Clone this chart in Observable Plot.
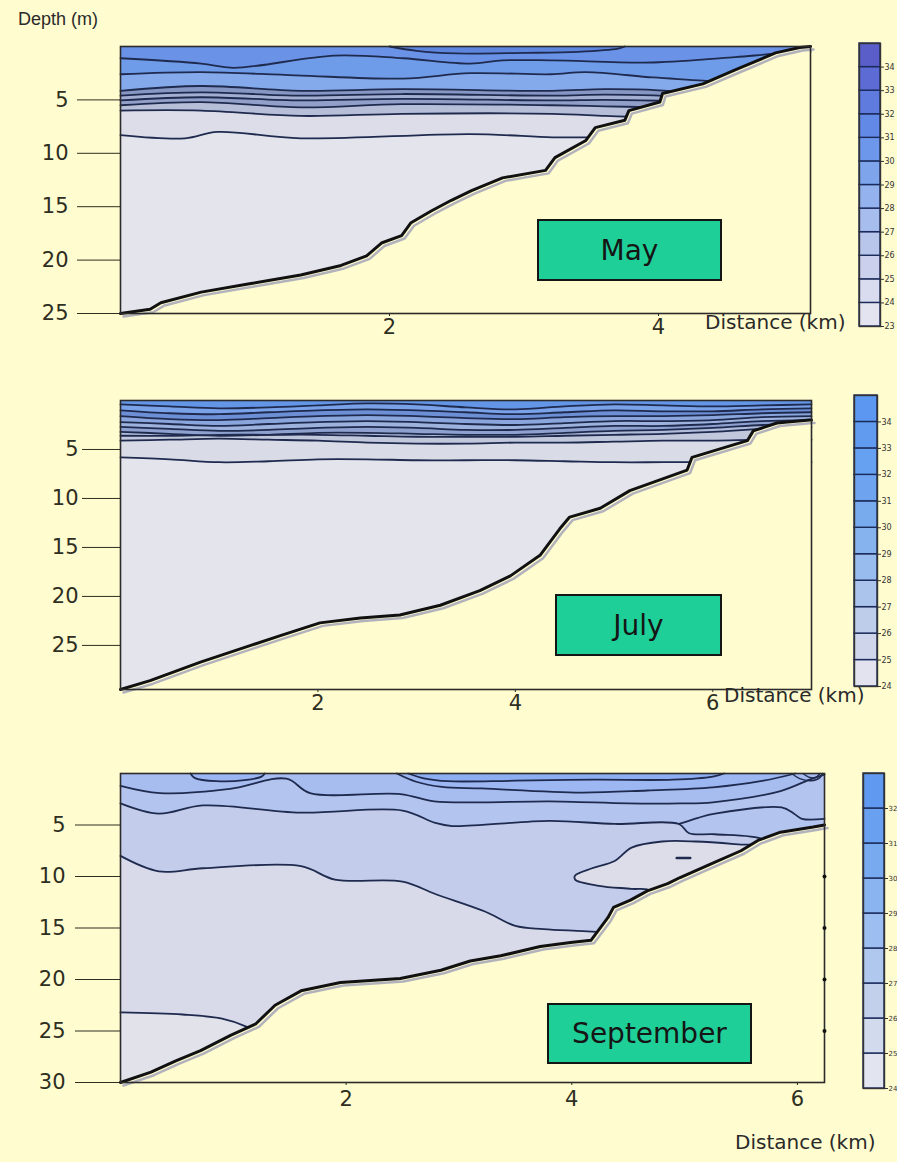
<!DOCTYPE html>
<html><head><meta charset="utf-8">
<script src="https://cdn.jsdelivr.net/npm/d3@7"></script>
<script src="https://cdn.jsdelivr.net/npm/@observablehq/plot@0.6"></script>
<style>
body{margin:0;background:#fffccf;}
#fig{position:relative;width:897px;height:1162px;overflow:hidden;background:#fffccf;}
.lab{position:absolute;font-family:'Comic Sans MS','DejaVu Sans',sans-serif;color:#2a2a2a;white-space:nowrap;}
.month{position:absolute;background:#1fcf98;border:2.5px solid #151515;box-sizing:border-box;display:flex;align-items:center;justify-content:center;font-size:28px;color:#151515;font-family:'Comic Sans MS','DejaVu Sans',sans-serif;}
</style></head>
<body><div id="fig"></div>
<script>
// ---------------- DATA ----------------
const months = ["May", "July", "September"];
const xTicks = {May: [2, 4], July: [2, 4, 6], September: [2, 4, 6]};
const yTicks = {May: [5, 10, 15, 20, 25], July: [5, 10, 15, 20, 25], September: [5, 10, 15, 20, 25, 30]};
const sepEdgeTicks = [10, 15, 20, 25];

// May: bottom profile [km, depth m]
const mayBottom = [[0,25.0],[0.22,24.6],[0.3,24.0],[0.6,23.0],[0.97,22.2],[1.34,21.4],[1.64,20.5],[1.83,19.6],[1.94,18.4],[2.09,17.7],[2.16,16.5],[2.31,15.4],[2.46,14.4],[2.61,13.5],[2.84,12.3],[3.16,11.6],[3.23,10.4],[3.46,8.8],[3.53,7.6],[3.75,6.9],[3.78,6.0],[4.01,5.2],[4.03,4.4],[4.33,3.5],[4.57,2.2],[4.87,0.6],[5.05,0.1],[5.13,0]];
// May isohalines [km, depth]
const mayIsoA = [[0,1.1],[0.6,1.6],[0.84,2.0],[1.59,0.85],[2.1,1.1],[2.6,1.6],[2.84,1.3],[3.21,1.3],[3.96,1.5],[4.57,1.0],[4.85,0.7],[5.13,0.5]];
const mayIsoB = [[0,2.6],[0.6,2.4],[1.3,2.7],[2.1,3.0],[2.6,2.5],[3.2,2.6],[3.46,2.4],[3.96,2.9],[4.33,3.2],[4.6,3.5]];
const mayIsoD = [[0,4.15],[0.6,3.7],[1.34,4.15],[2.09,4.0],[3.21,4.15],[3.6,4.0],[4.0,4.1],[4.2,4.3]];
const mayIsoE = [[0,4.6],[0.6,4.3],[1.34,4.6],[2.09,4.45],[3.21,4.6],[3.6,4.5],[4.0,4.6],[4.15,4.8]];
const mayIsoF = [[0,5.05],[0.6,4.75],[1.34,5.05],[2.09,4.9],[3.21,5.05],[3.6,5.0],[4.1,5.1]];
const mayIsoG = [[0,5.5],[0.6,5.2],[1.34,5.7],[2.09,5.4],[3.21,5.5],[3.6,5.6],[4.0,5.7]];
const mayIsoH = [[0,6.0],[0.6,6.0],[1.34,6.5],[2.09,6.3],[3.21,6.3],[3.6,6.5],[3.85,6.6]];
const mayIsoI = [[0,8.3],[0.48,8.6],[0.72,8.0],[1.34,8.6],[2.6,8.2],[3.21,8.5],[3.5,8.5]];
const mayLens = [[2.0,0],[2.2,0.4],[2.5,0.65],[3.0,0.6],[3.4,0.5],[3.7,0.2],[3.75,0]];

// July: bottom profile
const julBottom = [[0,29.5],[0.30,28.6],[0.81,26.7],[1.32,25.0],[1.62,24.0],[2.02,22.7],[2.43,22.2],[2.83,21.9],[3.24,20.9],[3.64,19.4],[3.95,17.9],[4.25,15.8],[4.45,13.1],[4.55,11.9],[4.86,11.0],[5.16,9.2],[5.74,7.1],[5.79,5.8],[6.35,4.1],[6.41,3.1],[6.65,2.3],[6.98,2.0],[7.0,2.0]];
// July isohalines: depth at each distance of julDist
const julDist = [0, 0.5, 1, 1.5, 2, 2.5, 3, 3.5, 4, 4.5, 5, 5.5, 6, 6.5, 7];
const julIso1 = [0.4, 0.6, 0.8, 0.7, 0.5, 0.3, 0.4, 0.7, 0.9, 0.6, 0.4, 0.5, 0.6, 0.5, 0.4];
const julIso2 = [1.0, 1.3, 1.4, 1.2, 1.0, 0.9, 1.0, 1.2, 1.4, 1.2, 1.0, 1.1, 1.1, 0.9, 0.8];
const julIso3 = [1.6, 1.9, 2.0, 1.8, 1.6, 1.5, 1.6, 1.8, 1.9, 1.7, 1.6, 1.6, 1.5, 1.3, 1.2];
const julIso4 = [2.2, 2.4, 2.6, 2.4, 2.2, 2.1, 2.2, 2.4, 2.5, 2.3, 2.1, 2.1, 2.0, 1.7, 1.6];
const julIso5 = [2.7, 2.9, 3.1, 3.0, 2.8, 2.7, 2.8, 3.0, 3.0, 2.8, 2.6, 2.6, 2.4, 2.1, 2.0];
const julIso6 = [3.2, 3.4, 3.6, 3.5, 3.3, 3.3, 3.4, 3.5, 3.5, 3.3, 3.1, 3.0, 2.8, 2.5, 2.3];
const julIso7 = [3.6, 3.6, 3.5, 3.5, 3.5, 3.6, 3.7, 3.7, 3.7, 3.6, 3.5, 3.4, 3.2, 2.9, 2.7];
const julIso8 = [4.1, 4.0, 3.9, 4.0, 4.1, 4.3, 4.4, 4.4, 4.3, 4.3, 4.2, 4.1, 4.1, 4.0, 4.0];
const julIso9 = [5.8, 6.0, 6.3, 6.2, 6.0, 6.0, 6.1, 6.1, 6.1, 6.2, 6.3, 6.3, 6.3, 6.3, 6.3];

// September: bottom profile
const sepBottom = [[0,30.0],[0.27,29.0],[0.49,27.9],[0.71,26.9],[0.98,25.4],[1.2,24.3],[1.37,22.5],[1.6,21.1],[1.95,20.3],[2.48,19.9],[2.84,19.1],[3.1,18.2],[3.37,17.7],[3.72,16.8],[3.99,16.4],[4.17,16.2],[4.32,14.0],[4.37,13.0],[4.52,12.3],[4.67,11.4],[4.85,10.7],[4.96,10.1],[5.25,8.7],[5.5,7.5],[5.65,6.5],[5.85,5.7],[6.14,5.2],[6.24,5.0]];
const sepIso2 = [[0,1.2],[0.35,1.9],[0.97,1.5],[1.47,0.5],[1.68,1.9],[2.48,2.0],[2.78,2.7],[3.2,2.8],[3.8,2.7],[4.5,2.9],[4.96,2.9],[5.25,2.8],[5.85,1.7],[6.13,0.5],[6.24,0.1]];
const sepIso3 = [[0,2.9],[0.34,3.9],[0.73,3.1],[1.6,3.8],[2.5,3.6],[2.79,4.8],[2.94,5.1],[3.8,4.6],[4.38,4.9],[4.95,4.9],[5.04,5.8],[5.27,5.9],[5.7,6.4],[5.8,7.5]];
const sepIso3b = [[4.95,4.9],[5.12,4.3],[5.27,3.9],[5.86,3.3],[5.97,3.9],[6.04,4.4],[6.24,4.4]];
const sepIso4 = [[0,8.0],[0.34,9.5],[0.73,9.2],[1.6,9.0],[1.9,10.3],[2.5,10.5],[2.79,11.7],[3.23,13.4],[3.5,14.8],[3.75,15.1],[4.1,15.3],[4.4,15.5]];
const sepIso5 = [[0,23.2],[0.55,23.4],[0.9,23.8],[1.12,24.6],[1.25,25.5]];
const sepLens1 = [[0.62,0],[0.66,0.45],[0.85,0.75],[1.1,0.65],[1.25,0.3],[1.28,0]];
const sepLensA = [[2.55,0],[2.7,0.5],[2.9,0.75],[3.5,0.7],[4.2,0.6],[4.9,0.6],[5.25,0.3],[5.35,0]];
const sepLensB = [[2.45,0],[2.62,0.8],[2.85,1.3],[3.2,1.45],[4.08,1.85],[4.67,1.65],[5.25,1.35],[5.7,0.7],[5.98,0]];
const sepLensR = [[4.03,9.9],[4.18,9.2],[4.38,8.5],[4.53,7.2],[4.8,6.6],[5.1,6.6],[5.5,6.9],[5.9,7.3],[5.9,14],[4.8,14],[4.7,11.4],[4.53,11.2],[4.24,10.9],[4.03,10.3]];
const sepDash = [[4.93,8.2],[5.05,8.2]];
const sepArc1 = [[5.95,0],[6.02,0.5],[6.12,0.7],[6.2,0.4],[6.22,0]];
const sepArc2 = [[6.05,0],[6.1,0.35],[6.16,0.4],[6.2,0]];

// colour bars: lower edge of each class
const mayBarLevels = [23, 24, 25, 26, 27, 28, 29, 30, 31, 32, 33, 34];
const julBarLevels = [24, 25, 26, 27, 28, 29, 30, 31, 32, 33, 34];
const sepBarLevels = [24, 25, 26, 27, 28, 29, 30, 31, 32];

// ---------------- STYLE ----------------
const BG = "#fffccf";
const FONT = "'Comic Sans MS','DejaVu Sans',sans-serif";
const LINE = "#1f2a4f";
const mayBarColors = ["#e4e4f0","#d9dcee","#cbd1ec","#b9c6ec","#a6bdee","#93b2ee","#7ea5ec","#6d97ea","#6389e6","#5f7bde","#5d6cd4","#5a5ec8"];
const julBarColors = ["#e2e3ee","#cfd6ec","#bdcdea","#aac4ec","#98bcee","#86b2ee","#78aaee","#6ea4ef","#66a0f0","#609bf0","#5c98f2"];
const sepBarColors = ["#e2e4ef","#d2daee","#c2d0ec","#b0c8ee","#9dbef0","#8ab4f0","#78aaf0","#6aa0f0","#5f9af0"];

const fig = document.getElementById("fig");
const pairs = (dist, depths) => depths.map((v, i) => [dist[i], v]);
const X = d => d[0], Y = d => d[1];

function panel(o) {
  const marks = [Plot.frame({fill: o.base, stroke: "none"})];
  for (const [data, color] of o.bands)
    marks.push(Plot.area(data, {x1: X, y1: Y, y2: () => o.ymax, fill: color, curve: "catmull-rom"}));
  for (const [data, color, curve] of o.fills)
    marks.push(Plot.line(data, {x: X, y: Y, fill: color, stroke: LINE, strokeWidth: 1.8, curve}));
  for (const [data] of o.bands)
    marks.push(Plot.line(data, {x: X, y: Y, stroke: LINE, strokeWidth: 1.8, curve: "catmull-rom"}));
  for (const [data, w] of (o.lines || []))
    marks.push(Plot.line(data, {x: X, y: Y, stroke: LINE, strokeWidth: w, curve: "catmull-rom"}));
  marks.push(Plot.area(o.bottom, {x1: X, y1: Y, y2: () => o.ymax, fill: BG}));
  marks.push(Plot.line(o.bottom, {x: X, y: Y, stroke: "#b2b2bc", strokeWidth: 2.5, dx: 3, dy: 3}));
  marks.push(Plot.line(o.bottom, {x: X, y: Y, stroke: "#111", strokeWidth: 3}));
  marks.push(Plot.frame({stroke: "#2b2b2b", strokeWidth: 1.6}));
  if (o.edgeTicks) marks.push(Plot.dot(o.edgeTicks, {x: () => o.xmax, y: d => d, r: 2, fill: "#111"}));
  const svg = Plot.plot({
    width: 897, height: o.height,
    marginLeft: 120, marginRight: o.mr, marginTop: o.mt, marginBottom: o.mb,
    x: {domain: [0, o.xmax], ticks: o.xticks, tickSize: 3, tickPadding: o.xpad, tickFormat: d => String(d), label: null},
    y: {domain: [0, o.ymax], reverse: true, ticks: o.yticks, tickSize: o.ytick, tickPadding: o.ypad, tickFormat: d => String(d), label: null},
    style: {background: "transparent", overflow: "visible", fontFamily: FONT, fontSize: "21px", color: "#2e2e22"},
    marks
  });
  svg.style.position = "absolute"; svg.style.left = "0px"; svg.style.top = o.top + "px";
  fig.appendChild(svg);
}

function colorbar(levels, colors, left, top, w, h, fs) {
  const svg = Plot.plot({
    width: w + 30, height: h + 12, marginLeft: 2, marginRight: 28, marginTop: 2, marginBottom: 10,
    x: {domain: [0, 1], axis: null},
    y: {domain: [levels[0], levels[levels.length - 1] + 1], axis: "right", ticks: levels, tickSize: 3, tickPadding: 1, tickFormat: d => String(d), label: null},
    color: {type: "identity"},
    style: {background: "transparent", overflow: "visible", fontFamily: "'DejaVu Sans',sans-serif", fontSize: fs + "px", color: "#333"},
    marks: [
      Plot.rect(levels, {x1: () => 0, x2: () => 1, y1: d => d, y2: d => d + 1, fill: (d, i) => colors[i], stroke: "#1b2a5a", strokeWidth: 1.4}),
      Plot.frame({stroke: "#333", strokeWidth: 1.4})
    ]
  });
  svg.style.position = "absolute"; svg.style.left = (left - 2) + "px"; svg.style.top = (top - 2) + "px";
  fig.appendChild(svg);
}

function label(text, left, top, size, family) {
  const d = document.createElement("div");
  d.className = "lab"; d.textContent = text;
  d.style.left = left + "px"; d.style.top = top + "px"; d.style.fontSize = size + "px";
  if (family) d.style.fontFamily = family;
  fig.appendChild(d);
}
function monthBox(text, left, top, w, h) {
  const d = document.createElement("div");
  d.className = "month"; d.textContent = text;
  Object.assign(d.style, {left: left + "px", top: top + "px", width: w + "px", height: h + "px"});
  fig.appendChild(d);
}

// ---- May ----
panel({
  top: 0, height: 345, mt: 46, mb: 32, mr: 87, xmax: 5.13, ymax: 25,
  xticks: xTicks.May, yticks: yTicks.May, ytick: 43, ypad: 9, xpad: 3,
  base: "#6a93e7",
  bands: [[mayIsoA, "#6f9ce9"], [mayIsoB, "#84aaec"], [mayIsoD, "#8797c4"], [mayIsoE, "#a3afd2"], [mayIsoF, "#929fc8"], [mayIsoG, "#b7bfd8"], [mayIsoH, "#dcdde8"], [mayIsoI, "#e4e4ec"]],
  fills: [[mayLens, "#5f86de", "catmull-rom"]],
  bottom: mayBottom
});
// ---- July ----
const julIsos = [julIso1, julIso2, julIso3, julIso4, julIso5, julIso6, julIso7, julIso8, julIso9].map(a => pairs(julDist, a));
const julColors = ["#7aa2e8", "#6d8fd6", "#8aa6dc", "#9db2dc", "#8fa2cf", "#b0bcda", "#c2c8dc", "#d9dbe6", "#e4e4ec"];
panel({
  top: 360, height: 360, mt: 40, mb: 31, mr: 86, xmax: 7.0, ymax: 29.5,
  xticks: xTicks.July, yticks: yTicks.July, ytick: 38, ypad: 4, xpad: 3,
  base: "#6496e8",
  bands: julIsos.map((d, i) => [d, julColors[i]]),
  fills: [],
  bottom: julBottom
});
// ---- September ----
panel({
  top: 740, height: 380, mt: 33, mb: 38, mr: 73, xmax: 6.24, ymax: 30,
  xticks: xTicks.September, yticks: yTicks.September, ytick: 45, ypad: 10, xpad: 6,
  base: "#a7bdf0",
  bands: [[sepIso2, "#b3c4ee"], [sepIso3, "#c3cdeb"], [sepIso4, "#d8dae9"], [sepIso5, "#e1e2ea"]],
  fills: [[sepLens1, "#9bb6f2", "catmull-rom"], [sepLensB, "#9cb7f2", "catmull-rom"], [sepLensA, "#8eaef2", "catmull-rom"], [sepLensR, "#dcdde9", "catmull-rom-closed"]],
  lines: [[sepIso3b, 1.8], [sepDash, 2.5], [sepArc1, 1.4], [sepArc2, 1.4]],
  edgeTicks: sepEdgeTicks,
  bottom: sepBottom
});

colorbar(mayBarLevels, mayBarColors, 859, 43, 21, 283, 8);
colorbar(julBarLevels, julBarColors, 854, 395, 23, 291, 8);
colorbar(sepBarLevels, sepBarColors, 863, 773, 21, 315, 7);

label("Depth (m)", 18, 9, 18, "'Liberation Sans',Arial,sans-serif");
label("Distance (km)", 705, 310, 20);
label("Distance (km)", 724, 683, 20);
label("Distance (km)", 735, 1130, 20);
monthBox(months[0], 537, 219, 185, 62);
monthBox(months[1], 555, 594, 167, 62);
monthBox(months[2], 547, 1003, 205, 61);
</script>
</body></html>
